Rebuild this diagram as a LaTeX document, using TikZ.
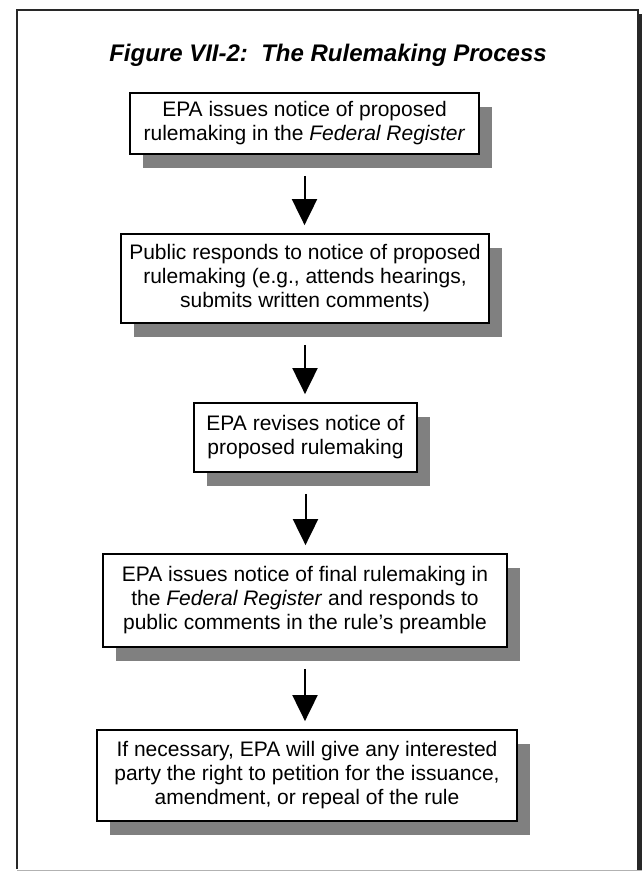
\documentclass[tikz,border=0pt]{standalone}
\usepackage{fontspec}
\setmainfont{Liberation Sans}
\usetikzlibrary{arrows.meta}
\definecolor{shadowgray}{RGB}{128,128,128}
\definecolor{framedark}{RGB}{40,40,40}
\tikzset{
  stepbox/.style={draw=black, line width=1.8pt, fill=white, align=center,
    inner sep=0pt, font=\fontsize{21}{24}\selectfont},
  flowarrow/.style={line width=2pt, -{Triangle[width=25pt,length=26pt]}},
}
\newcommand{\shadowbox}[6]{%
  % name, cx, cy, w, h, text
  \fill[shadowgray] ({#2-#4/2+13},{#3-#5/2+14}) rectangle ({#2+#4/2+13},{#3+#5/2+14});
  \node[stepbox, minimum width=#4pt, minimum height=#5pt] (#1) at (#2,#3) {#6};
}
\begin{document}
\begin{tikzpicture}[x=1pt,y=-1pt]
\useasboundingbox (0,0) rectangle (642,871);
% frame
\fill[framedark] (637,14) rectangle (642,871);
\draw[framedark, line width=2pt] (17,869) -- (17,10) -- (638,10) -- (638,869);
\draw[gray!60, line width=1pt] (17,870) -- (642,870);
% title
\node[font=\fontsize{24}{28}\selectfont\bfseries\itshape] (title) at (328,55) {Figure VII-2:\ \ The Rulemaking Process};
% boxes
\shadowbox{b1}{304.5}{123.5}{349}{61}{EPA issues notice of proposed\\ rulemaking in the \textit{Federal Register}}
\shadowbox{b2}{305}{278.5}{368}{89}{Public responds to notice of proposed\\ rulemaking (e.g., attends hearings,\\ submits written comments)}
\shadowbox{b3}{305.5}{437.5}{223}{69}{EPA revises notice of\\ proposed rulemaking}
\shadowbox{b4}{305}{600.5}{404}{93}{EPA issues notice of final rulemaking in\\ the \textit{Federal Register} and responds to\\ public comments in the rule’s preamble}
\shadowbox{b5}{307}{775.5}{420}{91}{If necessary, EPA will give any interested\\ party the right to petition for the issuance,\\ amendment, or repeal of the rule}
% arrows
\draw[flowarrow] ([yshift=-21pt]b1.south) -- ([yshift=8pt]b1.south |- b2.north);
\draw[flowarrow] ([yshift=-21pt]b2.south) -- ([yshift=8pt]b2.south |- b3.north);
\draw[flowarrow] ([yshift=-21pt]b3.south) -- ([yshift=8pt]b3.south |- b4.north);
\draw[flowarrow] ([yshift=-21pt]b4.south) -- ([yshift=8pt]b4.south |- b5.north);
\end{tikzpicture}
\end{document}
